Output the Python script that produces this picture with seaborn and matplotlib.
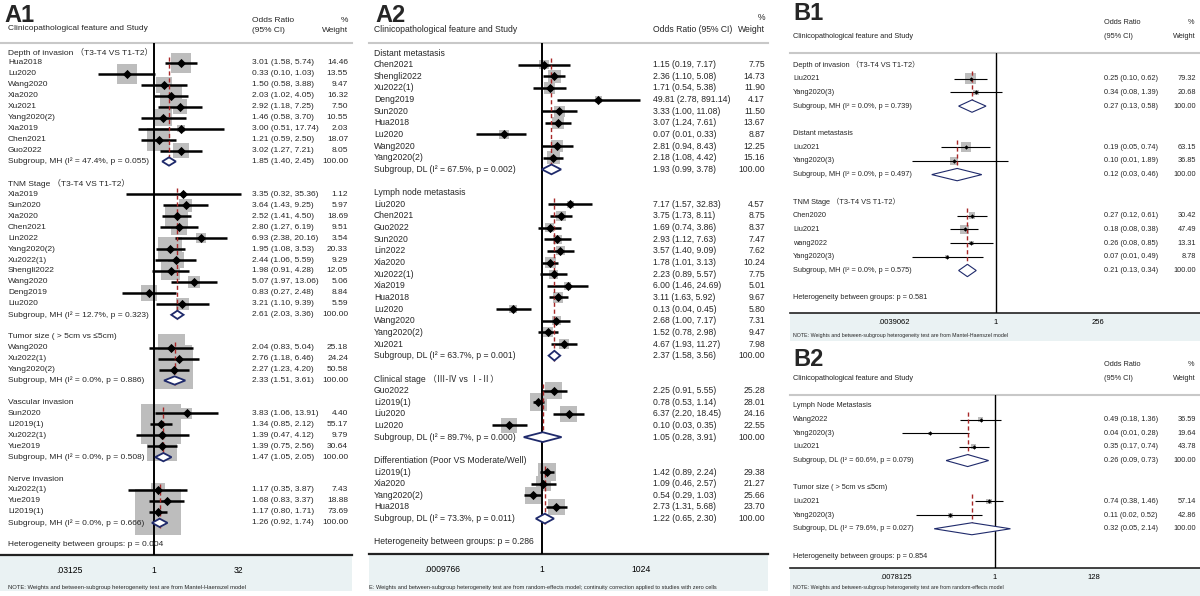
import numpy as np
import pandas as pd
import matplotlib
matplotlib.use('Agg')
import matplotlib.pyplot as plt
import matplotlib.transforms as mtransforms
from matplotlib.patches import Polygon, Rectangle
from matplotlib.ticker import NullLocator
import seaborn as sns

sns.set_style('white')
plt.rcParams['font.family'] = ['Liberation Sans', 'Noto Sans CJK SC', 'DejaVu Sans']

W, H = 1200, 596

# ---------------- A1 data ----------------
a1_groups = ['Depth of invasion （T3-T4 VS T1-T2）',
             'TNM Stage （T3-T4 VS T1-T2）',
             'Tumor size ( > 5cm vs ≤5cm)',
             'Vascular invasion',
             'Nerve invasion']
a1_studies = [['Hua2018', 'Lu2020', 'Wang2020', 'Xia2020', 'Xu2021', 'Yang2020(2)', 'Xia2019', 'Chen2021', 'Guo2022'],
              ['Xia2019', 'Sun2020', 'Xia2020', 'Chen2021', 'Lin2022', 'Yang2020(2)', 'Xu2022(1)', 'Shengli2022',
               'Wang2020', 'Deng2019', 'Liu2020'],
              ['Wang2020', 'Xu2022(1)', 'Yang2020(2)'],
              ['Sun2020', 'Li2019(1)', 'Xu2022(1)', 'Yue2019'],
              ['Xu2022(1)', 'Yue2019', 'Li2019(1)']]
a1_or = [[3.01, 0.33, 1.50, 2.03, 2.92, 1.46, 3.00, 1.21, 3.02],
         [3.35, 3.64, 2.52, 2.80, 6.93, 1.95, 2.44, 1.98, 5.07, 0.83, 3.21],
         [2.04, 2.76, 2.27],
         [3.83, 1.34, 1.39, 1.39],
         [1.17, 1.68, 1.17]]
a1_lo = [[1.58, 0.10, 0.58, 1.02, 1.18, 0.58, 0.51, 0.59, 1.27],
         [0.32, 1.43, 1.41, 1.27, 2.38, 1.08, 1.06, 0.91, 1.97, 0.27, 1.10],
         [0.83, 1.18, 1.23],
         [1.06, 0.85, 0.47, 0.75],
         [0.35, 0.83, 0.80]]
a1_hi = [[5.74, 1.03, 3.88, 4.05, 7.25, 3.70, 17.74, 2.50, 7.21],
         [35.36, 9.25, 4.50, 6.19, 20.16, 3.53, 5.59, 4.28, 13.06, 2.48, 9.39],
         [5.04, 6.46, 4.20],
         [13.91, 2.12, 4.12, 2.56],
         [3.87, 3.37, 1.71]]
a1_wt = [[14.46, 13.55, 9.47, 16.32, 7.50, 10.55, 2.03, 18.07, 8.05],
         [1.12, 5.97, 18.69, 9.51, 3.54, 20.33, 9.29, 12.05, 5.06, 8.84, 5.59],
         [25.18, 24.24, 50.58],
         [4.40, 55.17, 9.79, 30.64],
         [7.43, 18.88, 73.69]]
a1_pool = [(1.85, 1.40, 2.45), (2.61, 2.03, 3.36), (2.33, 1.51, 3.61), (1.47, 1.05, 2.05), (1.26, 0.92, 1.74)]
a1_sub = ['Subgroup, MH (I² = 47.4%, p = 0.055)', 'Subgroup, MH (I² = 12.7%, p = 0.323)',
          'Subgroup, MH (I² = 0.0%, p = 0.886)', 'Subgroup, MH (I² = 0.0%, p = 0.508)',
          'Subgroup, MH (I² = 0.0%, p = 0.666)']
a1_het = 'Heterogeneity between groups: p = 0.004'

# ---------------- A2 data ----------------
a2_groups = ['Distant metastasis', 'Lymph node metastasis', 'Clinical stage （Ⅲ-Ⅳ vs Ⅰ-Ⅱ）',
             'Differentiation (Poor VS Moderate/Well)']
a2_studies = [['Chen2021', 'Shengli2022', 'Xu2022(1)', 'Deng2019', 'Sun2020', 'Hua2018', 'Lu2020', 'Wang2020',
               'Yang2020(2)'],
              ['Liu2020', 'Chen2021', 'Guo2022', 'Sun2020', 'Lin2022', 'Xia2020', 'Xu2022(1)', 'Xia2019', 'Hua2018',
               'Lu2020', 'Wang2020', 'Yang2020(2)', 'Xu2021'],
              ['Guo2022', 'Li2019(1)', 'Liu2020', 'Lu2020'],
              ['Li2019(1)', 'Xia2020', 'Yang2020(2)', 'Hua2018']]
a2_or = [[1.15, 2.36, 1.71, 49.81, 3.33, 3.07, 0.07, 2.81, 2.18],
         [7.17, 3.75, 1.69, 2.93, 3.57, 1.78, 2.23, 6.00, 3.11, 0.13, 2.68, 1.52, 4.67],
         [2.25, 0.78, 6.37, 0.10],
         [1.42, 1.09, 0.54, 2.73]]
a2_lo = [[0.19, 1.10, 0.54, 2.78, 1.00, 1.24, 0.01, 0.94, 1.08],
         [1.57, 1.73, 0.74, 1.12, 1.40, 1.01, 0.89, 1.46, 1.63, 0.04, 1.00, 0.78, 1.93],
         [0.91, 0.53, 2.20, 0.03],
         [0.89, 0.46, 0.29, 1.31]]
a2_hi = [[7.17, 5.08, 5.38, 891.14, 11.08, 7.61, 0.33, 8.43, 4.42],
         [32.83, 8.11, 3.86, 7.63, 9.09, 3.13, 5.57, 24.69, 5.92, 0.45, 7.17, 2.98, 11.27],
         [5.55, 1.14, 18.45, 0.35],
         [2.24, 2.57, 1.03, 5.68]]
a2_wt = [[7.75, 14.73, 11.90, 4.17, 11.50, 13.67, 8.87, 12.25, 15.16],
         [4.57, 8.75, 8.37, 7.47, 7.62, 10.24, 7.75, 5.01, 9.67, 5.80, 7.31, 9.47, 7.98],
         [25.28, 28.01, 24.16, 22.55],
         [29.38, 21.27, 25.66, 23.70]]
a2_pool = [(1.93, 0.99, 3.78), (2.37, 1.58, 3.56), (1.05, 0.28, 3.91), (1.22, 0.65, 2.30)]
a2_sub = ['Subgroup, DL (I² = 67.5%, p = 0.002)', 'Subgroup, DL (I² = 63.7%, p = 0.001)',
          'Subgroup, DL (I² = 89.7%, p = 0.000)', 'Subgroup, DL (I² = 73.3%, p = 0.011)']
a2_het = 'Heterogeneity between groups: p = 0.286'

# ---------------- B1 data ----------------
b1_groups = ['Depth of invasion （T3-T4 VS T1-T2）', 'Distant metastasis', 'TNM Stage （T3-T4 VS T1-T2）']
b1_studies = [['Liu2021', 'Yang2020(3)'], ['Liu2021', 'Yang2020(3)'],
              ['Chen2020', 'Liu2021', 'wang2022', 'Yang2020(3)']]
b1_or = [[0.25, 0.34], [0.19, 0.10], [0.27, 0.18, 0.26, 0.07]]
b1_lo = [[0.10, 0.08], [0.05, 0.01], [0.12, 0.08, 0.08, 0.01]]
b1_hi = [[0.62, 1.39], [0.74, 1.89], [0.61, 0.38, 0.85, 0.49]]
b1_wt = [[79.32, 20.68], [63.15, 36.85], [30.42, 47.49, 13.31, 8.78]]
b1_pool = [(0.27, 0.13, 0.58), (0.12, 0.03, 0.46), (0.21, 0.13, 0.34)]
b1_sub = ['Subgroup, MH (I² = 0.0%, p = 0.739)', 'Subgroup, MH (I² = 0.0%, p = 0.497)',
          'Subgroup, MH (I² = 0.0%, p = 0.575)']
b1_het = 'Heterogeneity between groups: p = 0.581'

# ---------------- B2 data ----------------
b2_groups = ['Lymph Node Metastasis', 'Tumor size ( > 5cm vs ≤5cm)']
b2_studies = [['Wang2022', 'Yang2020(3)', 'Liu2021'], ['Liu2021', 'Yang2020(3)']]
b2_or = [[0.49, 0.04, 0.35], [0.74, 0.11]]
b2_lo = [[0.18, 0.01, 0.17], [0.38, 0.02]]
b2_hi = [[1.36, 0.28, 0.74], [1.46, 0.52]]
b2_wt = [[36.59, 19.64, 43.78], [57.14, 42.86]]
b2_pool = [(0.26, 0.09, 0.73), (0.32, 0.05, 2.14)]
b2_sub = ['Subgroup, DL (I² = 60.6%, p = 0.079)', 'Subgroup, DL (I² = 79.6%, p = 0.027)']
b2_het = 'Heterogeneity between groups: p = 0.854'

note_mh = 'NOTE: Weights and between-subgroup heterogeneity test are from Mantel-Haenszel model'
note_re = 'NOTE: Weights and between-subgroup heterogeneity test are from random-effects model'
note_a2 = ('E: Weights and between-subgroup heterogeneity test are from random-effects model; '
           'continuity correction applied to studies with zero cells')

BOX = '#bdbdbd'
NAVY = '#1f2a6b'
RED = '#a82828'
BG = '#eaf2f3'

fig = plt.figure(figsize=(W / 100, H / 100), dpi=100)


def ftext(x, y, s, **kw):
    fig.text(x / W, 1 - y / H, s, va='center', **kw)


def draw_panel(p, groups, studies, ors, los, his, wts, pools, subs, het):
    left, right = p['left'], p['right']
    top, bottom = p['header_y'], p['axis_y']
    ax = fig.add_axes([left / W, 1 - bottom / H, (right - left) / W, (bottom - top) / H])

    # rows of the table
    recs = []
    r = 0
    for g, name in enumerate(groups):
        recs.append(dict(row=r, kind='header', label=name, group=g))
        for j, s in enumerate(studies[g]):
            r += 1
            recs.append(dict(row=r, kind='study', label=s, est=ors[g][j], lo=los[g][j],
                             hi=his[g][j], wt=wts[g][j], group=g))
        r += 1
        recs.append(dict(row=r, kind='pool', label=subs[g], est=pools[g][0], lo=pools[g][1],
                         hi=pools[g][2], wt=100.0, group=g))
        r += 2
    het_row = r
    df = pd.DataFrame(recs)
    st = df[df.kind == 'study']
    pl = df[df.kind == 'pool']
    hd = df[df.kind == 'header']

    # weight boxes, CIs and point estimates
    ax.scatter(st.est, st.row, s=(p['box_k'] * np.sqrt(st.wt) * 0.72) ** 2, marker='s',
               color=BOX, linewidths=0, zorder=2)
    ax.hlines(st.row, st.lo, st.hi, color='black', lw=p['ci_lw'], zorder=3)
    sns.scatterplot(data=st, x='est', y='row', marker='D', color='black', s=p['dot_s'],
                    linewidth=0, ax=ax, zorder=4, legend=False)

    # subgroup diamonds and dashed pooled lines
    for (_, h), (_, q) in zip(hd.iterrows(), pl.iterrows()):
        dh = p['dia_h']
        ax.add_patch(Polygon([(q.lo, q.row), (q.est, q.row - dh), (q.hi, q.row), (q.est, q.row + dh)],
                             closed=True, fc='white', ec=NAVY, lw=p['dia_lw'], zorder=5))
        ax.vlines(q.est, h.row + 0.45, q.row + 0.45, color=RED, lw=1.0,
                  linestyles=(0, (3, 2)), zorder=3.5)

    ax.axvline(1, color='black', lw=p['v_lw'], zorder=3)

    ax.set_xscale('log', base=2)
    ax.set_xlim(2 ** ((left - p['x1']) / p['ppu']), 2 ** ((right - p['x1']) / p['ppu']))
    ax.set_ylim((bottom - p['row0']) / p['dy'], (top - p['row0']) / p['dy'])
    ax.set_xticks(p['ticks'])
    ax.set_xticklabels(p['ticklabels'])
    ax.xaxis.set_minor_locator(NullLocator())
    ax.set_yticks([])
    ax.set_xlabel('')
    ax.set_ylabel('')
    ax.tick_params(axis='x', direction='out', length=p['tick_len'], width=1.2, pad=p['tick_pad'],
                   labelsize=p['tick_fs'], colors='black')
    for side in ['left', 'right']:
        ax.spines[side].set_visible(False)
    ax.spines['top'].set_color('#c8c8c8')
    ax.spines['top'].set_linewidth(1.5)
    ax.spines['bottom'].set_color('#222222')
    ax.spines['bottom'].set_linewidth(p['axis_lw'])

    # text columns
    tr = mtransforms.blended_transform_factory(ax.transAxes, ax.transData)
    fx = lambda xp: (xp - left) / (right - left)
    fs = p['fs']
    for _, row in df.iterrows():
        ax.text(fx(p['label_x']), row.row, row.label, transform=tr, ha='left', va='center',
                fontsize=fs, zorder=6, clip_on=False)
        if row.kind != 'header':
            ax.text(fx(p['or_x']), row.row, f'{row.est:.2f} ({row.lo:.2f}, {row.hi:.2f})',
                    transform=tr, ha='left', va='center', fontsize=fs, clip_on=False)
            ax.text(fx(p['wt_x']), row.row, f'{row.wt:.2f}', transform=tr, ha='right',
                    va='center', fontsize=fs, clip_on=False)
    ax.text(fx(p['label_x']), het_row, het, transform=tr, ha='left', va='center', fontsize=fs,
            zorder=6)

    # light background under the axis
    fig.add_artist(Rectangle((left / W, 1 - p['bg_bottom'] / H), (right - left) / W,
                             (p['bg_bottom'] - bottom) / H, transform=fig.transFigure,
                             fc=BG, ec='none', zorder=-1))
    return ax


a1 = dict(left=0, right=352, x1=154, ppu=16.9, header_y=43, row0=52, dy=10.95, axis_y=555,
          bg_bottom=591, label_x=8, or_x=252, wt_x=348, fs=6.0, box_k=5.36, ci_lw=1.8, dot_s=22,
          dia_h=0.38, dia_lw=1.3, v_lw=1.4, axis_lw=1.6, ticks=[2 ** -5, 1, 2 ** 5],
          ticklabels=['.03125', '1', '32'], tick_fs=6.2, tick_len=5.5, tick_pad=2.5)
a2 = dict(left=369, right=768, x1=542, ppu=9.95, header_y=43, row0=53, dy=11.64, axis_y=554,
          bg_bottom=591, label_x=374, or_x=653, wt_x=765, fs=6.2, box_k=3.34, ci_lw=1.8, dot_s=22,
          dia_h=0.42, dia_lw=1.3, v_lw=1.4, axis_lw=1.6, ticks=[2 ** -10, 1, 2 ** 10],
          ticklabels=['.0009766', '1', '1024'], tick_fs=6.2, tick_len=5.5, tick_pad=2.5)
b1 = dict(left=790, right=1200, x1=996, ppu=12.7, header_y=53, row0=65, dy=13.7, axis_y=313,
          bg_bottom=341, label_x=793, or_x=1104, wt_x=1196, fs=5.3, box_k=1.25, ci_lw=0.8, dot_s=5,
          dia_h=0.45, dia_lw=0.8, v_lw=1.0, axis_lw=1.2, ticks=[2 ** -8, 1, 2 ** 8],
          ticklabels=['.0039062', '1', '256'], tick_fs=5.5, tick_len=3, tick_pad=1.5)
b2 = dict(left=790, right=1200, x1=995, ppu=14.07, header_y=395, row0=406, dy=13.64, axis_y=568,
          bg_bottom=596, label_x=793, or_x=1104, wt_x=1196, fs=5.3, box_k=0.75, ci_lw=0.8, dot_s=5,
          dia_h=0.44, dia_lw=0.8, v_lw=1.0, axis_lw=1.2, ticks=[2 ** -7, 1, 2 ** 7],
          ticklabels=['.0078125', '1', '128'], tick_fs=5.5, tick_len=3, tick_pad=1.5)

draw_panel(a1, a1_groups, a1_studies, a1_or, a1_lo, a1_hi, a1_wt, a1_pool, a1_sub, a1_het)
draw_panel(a2, a2_groups, a2_studies, a2_or, a2_lo, a2_hi, a2_wt, a2_pool, a2_sub, a2_het)
draw_panel(b1, b1_groups, b1_studies, b1_or, b1_lo, b1_hi, b1_wt, b1_pool, b1_sub, b1_het)
draw_panel(b2, b2_groups, b2_studies, b2_or, b2_lo, b2_hi, b2_wt, b2_pool, b2_sub, b2_het)

# headers
ftext(4, 15, 'A1', fontsize=17, fontweight='bold')
ftext(8, 29, 'Clinicopathological feature and Study', fontsize=6.0)
ftext(252, 20, 'Odds Ratio', fontsize=6.0)
ftext(252, 30, '(95% CI)', fontsize=6.0)
ftext(348, 20, '%', fontsize=6.0, ha='right')
ftext(348, 30, 'Weight', fontsize=6.0, ha='right')
ftext(8, 587, note_mh, fontsize=4.2)

ftext(375, 15, 'A2', fontsize=17, fontweight='bold')
ftext(374, 30, 'Clinicopathological feature and Study', fontsize=6.2)
ftext(653, 30, 'Odds Ratio (95% CI)', fontsize=6.2)
ftext(765, 17, '%', fontsize=6.2, ha='right')
ftext(765, 30, 'Weight', fontsize=6.2, ha='right')
ftext(369, 587, note_a2, fontsize=4.1)

ftext(793, 14, 'B1', fontsize=17, fontweight='bold')
ftext(793, 37, 'Clinicopathological feature and Study', fontsize=5.3)
ftext(1104, 23, 'Odds Ratio', fontsize=5.3)
ftext(1104, 37, '(95% CI)', fontsize=5.3)
ftext(1194, 23, '%', fontsize=5.3, ha='right')
ftext(1196, 37, 'Weight', fontsize=5.3, ha='right')
ftext(793, 335, note_mh, fontsize=3.8)

ftext(793, 360, 'B2', fontsize=17, fontweight='bold')
ftext(793, 378, 'Clinicopathological feature and Study', fontsize=5.3)
ftext(1104, 364, 'Odds Ratio', fontsize=5.3)
ftext(1104, 378, '(95% CI)', fontsize=5.3)
ftext(1194, 364, '%', fontsize=5.3, ha='right')
ftext(1196, 378, 'Weight', fontsize=5.3, ha='right')
ftext(793, 588, note_re, fontsize=3.8)

fig.savefig('out.png', dpi=100)
